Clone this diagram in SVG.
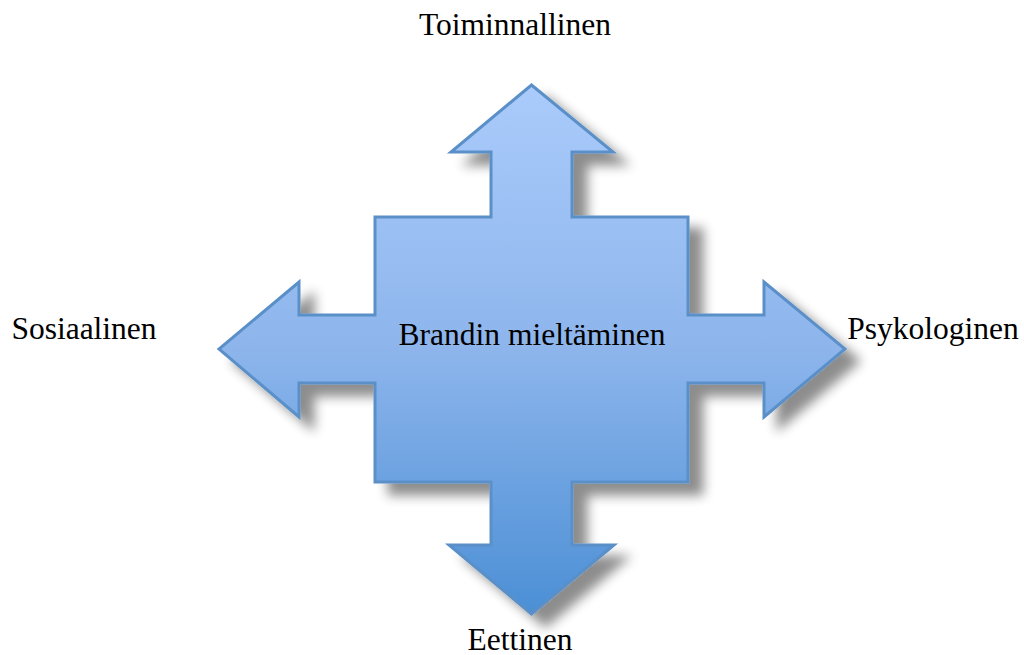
<svg xmlns="http://www.w3.org/2000/svg" width="1024" height="655" viewBox="0 0 1024 655">
<defs>
<linearGradient id="g" x1="0" y1="85" x2="0" y2="614" gradientUnits="userSpaceOnUse">
<stop offset="0" stop-color="#aacbfb"/>
<stop offset="0.5" stop-color="#8db5ec"/>
<stop offset="1" stop-color="#4b8fd5"/>
</linearGradient>
<filter id="sh" x="-20%" y="-20%" width="140%" height="140%">
<feGaussianBlur in="SourceAlpha" stdDeviation="6"/>
<feOffset dx="14" dy="12" result="b"/>
<feComponentTransfer><feFuncA type="linear" slope="0.45"/></feComponentTransfer>
<feMerge><feMergeNode/><feMergeNode in="SourceGraphic"/></feMerge>
</filter>
<style>
text{font-family:"Liberation Serif","Times New Roman",serif;font-size:31.5px;fill:#000}
.s{fill:url(#g);stroke:#5a8fc8;stroke-width:3;stroke-linejoin:miter}
</style>
</defs>
<rect width="1024" height="655" fill="#fff"/>
<g id="cross" filter="url(#sh)">
<path class="s" d="M531.5,85 L613,152 L572,152 L572,217 L688,217 L688,315 L764,315 L764,282 L845,349 L764,417 L764,383 L688,383 L688,482 L572,482 L572,545 L614,545 L531.5,614 L449,545 L491,545 L491,482 L375,482 L375,383 L299,383 L299,417 L219,349 L299,282 L299,315 L375,315 L375,217 L491,217 L491,152 L451,152 Z"/>
</g>
<g id="center"><text x="532" y="345" text-anchor="middle">Brandin mieltäminen</text></g>
<g id="top"><text x="515" y="35" text-anchor="middle">Toiminnallinen</text></g>
<g id="left"><text x="84" y="339" text-anchor="middle">Sosiaalinen</text></g>
<g id="right"><text x="933" y="339" text-anchor="middle">Psykologinen</text></g>
<g id="bottom"><text x="520" y="650" text-anchor="middle">Eettinen</text></g>
<g id="connectors"/>
</svg>
